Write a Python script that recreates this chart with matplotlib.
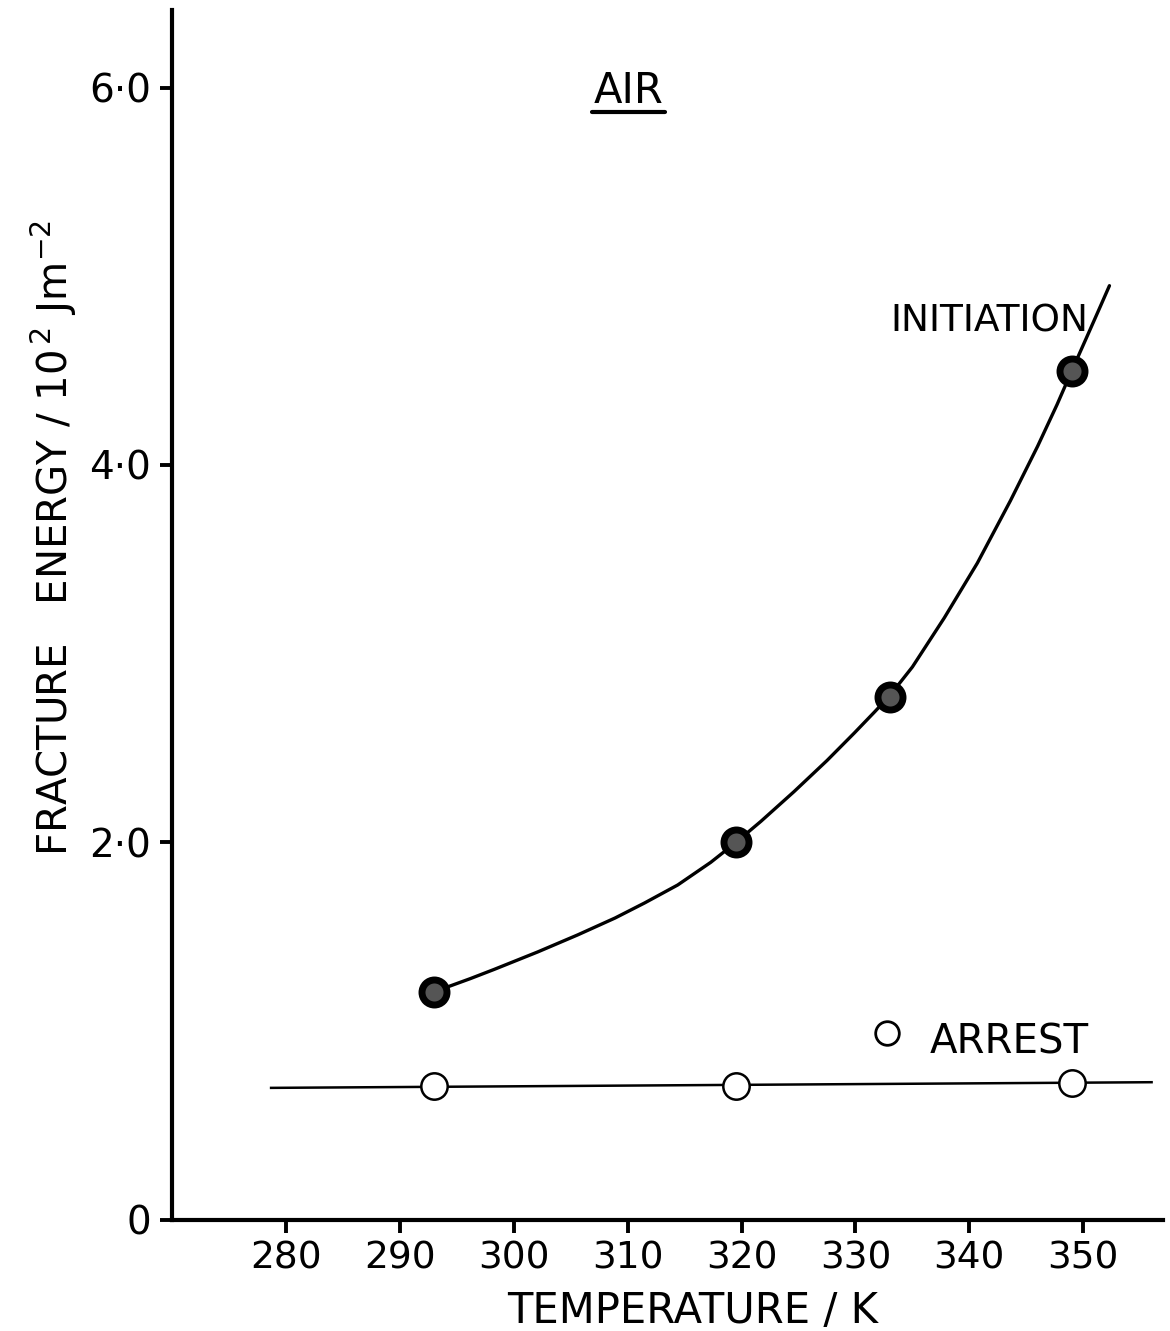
import matplotlib.pyplot as plt

# measured points
init_temp = [293, 319.5, 333, 349]
init_energy = [1.21, 2.00, 2.77, 4.50]
arrest_temp = [293, 319.5, 349]
arrest_energy = [0.71, 0.71, 0.725]

# hand drawn curves
init_curve_t = [293.1, 294.2, 296.2, 298.3, 302.1, 305.6, 308.9, 311.5, 314.4, 317.3, 319.5,
                321.7, 324.6, 327.5, 329.9, 331.7, 333.0, 335.0, 337.8, 340.7, 343.6, 346.0,
                347.7, 349.0, 350.4, 351.5, 352.3]
init_curve_e = [1.21, 1.235, 1.279, 1.328, 1.42, 1.51, 1.60, 1.68, 1.775, 1.895, 2.00,
                2.112, 2.269, 2.434, 2.58, 2.693, 2.777, 2.93, 3.19, 3.48, 3.81, 4.10,
                4.32, 4.50, 4.69, 4.84, 4.95]
arrest_line_t = [278.7, 356]
arrest_line_e = [0.70, 0.73]

xticks = [280, 290, 300, 310, 320, 330, 340, 350]
yticks = [0, 2, 4, 6]
ytick_labels = ['0', '2·0', '4·0', '6·0']

plt.rcParams['font.family'] = ['DejaVu Sans']

fig = plt.figure(figsize=(11.7, 13.31), dpi=100)
ax = fig.add_axes([0.147, 0.0834, 0.847, 0.909])

ax.plot(init_curve_t, init_curve_e, color='black', lw=2.4, solid_capstyle='round',
        solid_joinstyle='round')
ax.plot(arrest_line_t, arrest_line_e, color='black', lw=1.8)
ax.plot(init_temp, init_energy, 'o', ms=18, mfc='#555555', mec='black', mew=5)
ax.plot(arrest_temp, arrest_energy, 'o', ms=19, mfc='white', mec='black', mew=1.8)

# legend marks drawn by hand
ax.plot([332.8], [0.99], 'o', ms=17, mfc='white', mec='black', mew=2)
ax.text(336.5, 0.94, 'ARREST', fontsize=29, va='center', ha='left')
ax.text(341.8, 4.76, 'INITIATION', fontsize=27, va='center', ha='center')
ax.text(310.1, 5.98, 'AIR', fontsize=30, va='center', ha='center')
ax.plot([306.9, 313.3], [5.87, 5.87], color='black', lw=3, solid_capstyle='round')

ax.set_xlim(270, 357)
ax.set_ylim(0, 6.41)
ax.set_xticks(xticks)
ax.set_xticklabels([str(t) for t in xticks], fontsize=27)
ax.set_yticks(yticks)
ax.set_yticklabels(ytick_labels, fontsize=28)
ax.tick_params(direction='out', length=9, width=2.8, pad=6)

for side in ['top', 'right']:
    ax.spines[side].set_visible(False)
for side in ['left', 'bottom']:
    ax.spines[side].set_linewidth(3)

ax.set_xlabel('TEMPERATURE / K', fontsize=30)
ax.xaxis.set_label_coords(0.525, -0.058)
ax.set_ylabel('FRACTURE   ENERGY / 10$^{\\,2}$ Jm$^{-2}$', fontsize=29)
ax.yaxis.set_label_coords(-0.094, 0.564)

fig.savefig('out.png', dpi=100, facecolor='white')
